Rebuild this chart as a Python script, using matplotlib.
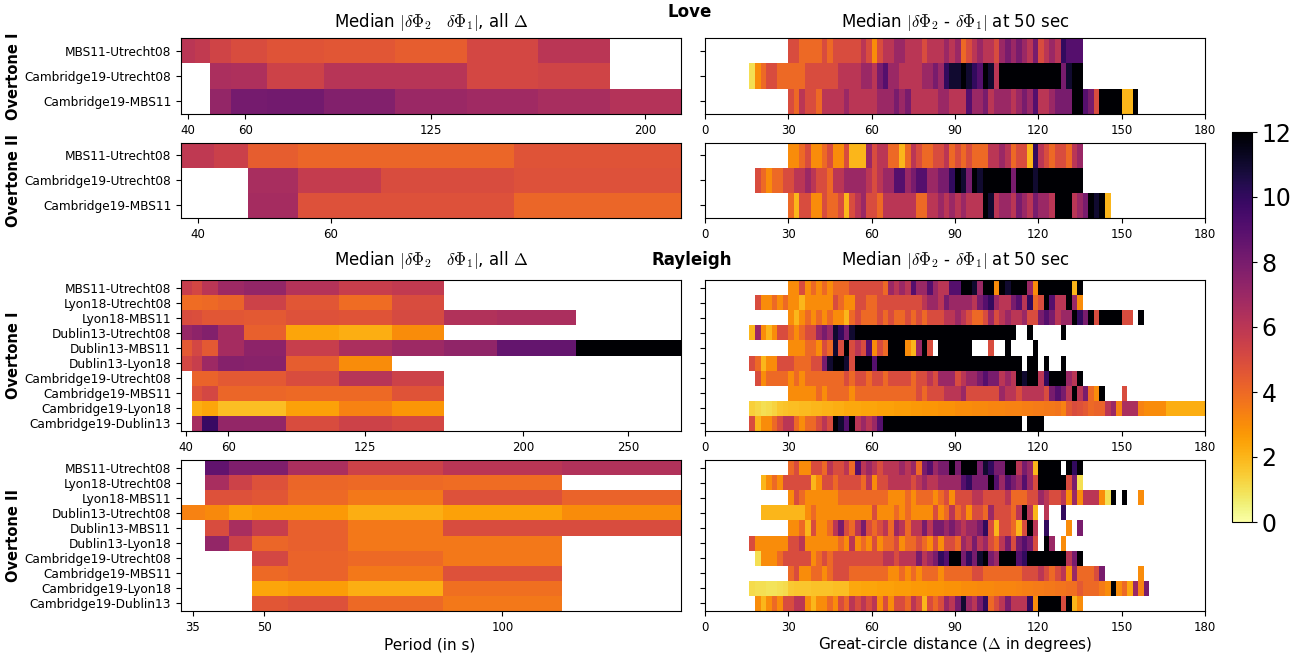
import numpy as np
import matplotlib.pyplot as plt

plt.rcParams["mathtext.fontset"] = "cm"

W, H = 1309, 663
CMAP = "inferno_r"
VMIN, VMAX = 0, 12
nan = np.nan

love_pairs = ["MBS11-Utrecht08", "Cambridge19-Utrecht08", "Cambridge19-MBS11"]
rayleigh_pairs = [
    "MBS11-Utrecht08", "Lyon18-Utrecht08", "Lyon18-MBS11", "Dublin13-Utrecht08",
    "Dublin13-MBS11", "Dublin13-Lyon18", "Cambridge19-Utrecht08", "Cambridge19-MBS11",
    "Cambridge19-Lyon18", "Cambridge19-Dublin13",
]

# median |dPhi2 - dPhi1| per period (all distances)
love_o1_periods = [40, 45, 50, 60, 75, 100, 125, 150, 175, 200]
love_o1_median = [
    [6.0, 5.8, 5.3, 5.0, 4.7, 4.6, 4.4, 5.2, 6.0, nan],
    [nan, nan, 6.5, 6.4, 5.4, 6.1, 6.1, 5.2, 5.3, nan],
    [nan, nan, 7.2, 8.1, 8.2, 7.7, 7.0, 6.8, 6.6, 6.2],
]
love_o2_periods = [40, 45, 50, 60, 75, 100]
love_o2_median = [
    [5.9, 5.5, 4.4, 4.1, 4.1, 4.7],
    [nan, nan, 6.6, 5.7, 5.0, 4.8],
    [nan, nan, 6.7, 4.8, 4.8, 4.1],
]
ray_o1_periods = [40, 45, 50, 60, 75, 100, 125, 150, 175, 200, 250]
ray_o1_median = [
    [5.6, 5.2, 6.0, 6.9, 7.2, 6.2, 5.6, 5.8, nan, nan, nan],
    [3.9, 3.9, 4.0, 4.2, 5.4, 4.6, 3.9, 5.0, nan, nan, nan],
    [5.0, 4.9, 4.6, 4.6, 4.5, 4.8, 4.7, 5.1, 6.3, 6.5, nan],
    [7.1, 7.4, 7.7, 6.7, 4.3, 2.4, 2.2, 3.0, nan, nan, nan],
    [4.5, 5.2, 4.5, 6.7, 7.4, 5.6, 6.5, 6.9, 7.3, 8.6, 12.0],
    [5.2, 5.6, 6.9, 7.6, 7.5, 4.4, 3.0, nan, nan, nan, nan],
    [nan, 4.2, 4.2, 4.5, 4.5, 5.0, 6.1, 5.4, nan, nan, nan],
    [nan, 4.8, 5.2, 4.1, 4.1, 4.0, 4.0, 4.7, nan, nan, nan],
    [nan, 2.2, 2.4, 1.8, 1.8, 2.5, 3.3, 2.8, nan, nan, nan],
    [nan, 6.7, 9.8, 7.2, 7.2, 5.0, 5.4, 5.2, nan, nan, nan],
]
ray_o2_periods = [35, 40, 45, 50, 60, 75, 100, 125]
ray_o2_median = [
    [nan, 8.7, 7.8, 7.8, 6.5, 5.4, 6.0, 6.3],
    [nan, 6.6, 5.4, 4.8, 4.1, 4.0, 3.9, nan],
    [nan, 4.8, 4.8, 4.6, 4.0, 3.6, 4.8, 4.2],
    [3.3, 3.1, 2.5, 2.7, 2.7, 2.2, 2.5, 3.0],
    [nan, 5.0, 6.6, 5.6, 4.3, 3.6, 5.0, 5.0],
    [nan, 7.2, 5.4, 4.1, 4.3, 3.6, 3.6, nan],
    [nan, nan, nan, 5.2, 4.2, 4.0, 3.6, nan],
    [nan, nan, nan, 4.0, 4.2, 3.6, 4.8, nan],
    [nan, nan, nan, 2.4, 2.6, 2.2, 3.8, nan],
    [nan, nan, nan, 4.6, 4.8, 4.0, 3.6, nan],
]

# median at 50 s per 2-degree distance bin: (first degree, cells)
# cell codes: "." = no data, "0".."9","a","b","c" = 0..12
dist_edges = np.arange(0, 182, 2)
love_o1_dist = [
    (30, "554444545555565356677666566676" "7456766578787685676a999"),
    (16, "1345544444555555666677689776666778 7ab".replace(" ", "") + "bcba9cb6cccccccccc" "c8bcc"),
    (30, "546554666676666677787866666776" "66977867776787966788" "8cc985cccc22c"),
]
love_o2_dist = [
    (30, "334533453352227566442465445564" "54544466764552a65455467"),
    (18, "543445566765546677776567799789" "97788a" "cb8cbccccc8cccbcccccccc"),
    (30, "425533544525675546666664466767" "67666cb67768768776ccc678cbc2"),
]
ray_o1_dist = [
    (30, "335343434445555554767697797669" "9ccb7cc3cbccc73cccccc2c"),
    (18, "533434332333335433554455555555677687" "777689a766896a45c966c73"),
    (30, "323434343324544454544545455566" "76544575676675589867" "7ca8c5cccc55.c"),
    (16, "273235543455787ba8b" "cccccccccccccccccc" "ccccccccccc..c.....c"),
    (30, "33344354b5c5659354ccc327c5.ccc" "ccc...5..c....c"),
    (16, "54233555444558bccb5ccc9cccccccccccccc" "cccccccccccc.cc.c..c"),
    (18, "534444343444444454554554555545565777" "56778988676cbcc6accc76c"),
    (30, "333334344443444444444445455566" "67555555766566665898" "6c6843c...5"),
    (16, [1.4, 1.2, 1.0, 1.1, 1.3, 1.6, 1.7, 1.8, 1.8, 1.9,
          1.9, 2.0, 2.0, 2.1, 2.1, 2.2, 2.2, 2.3, 2.3, 2.3,
          2.4, 2.4, 2.4, 2.5, 2.5, 2.5, 2.6, 2.6, 2.6, 2.7,
          2.7, 2.8, 2.8, 2.8, 2.9, 2.9, 2.9, 3.0, 3.0, 3.0,
          3.1, 3.1, 3.1, 3.2, 3.2, 3.2, 3.3, 3.3, 3.3, 3.4,
          3.4, 3.5, 3.5, 3.6, 3.6, 3.7, 3.3, 4.5, 5.0, 4.8,
          4.5, 4.0, 4.2, 4.2, 6.0, 7.0, 3.3, 6.5, 6.5, 6.5,
          3.3, 3.0, 3.0, 3.0, 3.0, 2.2, 2.2, 2.2, 2.2, 2.2,
          2.2, 2.2]),
    (16, "523345664344565cb9c67679ccccccccccccc" "cccccccccccc.ccc"),
]
ray_o2_dist = [
    (30, "453355465564967656667674897 88c".replace(" ", "") + "8ccc8ba88cc6872cccc.cac"),
    (20, "23435555523554555546355666656766777" "79a888c97987975ccccc581"),
    (30, "354333333444444444333434443453" "55566555564445576556" "37366631c.c..3"),
    (20, "22222222343333333333533343433335346" "453554755546c62.6..a"),
    (30, "334253346854685456476466868878" "76778a5255425c6.a...3.8"),
    (16, "5333333556333333436343534453445435355" "476867546858985.c7.3"),
    (18, "133345555534545555555556656668678a9c" "c8a8bc87ccc9accccccc68c"),
    (30, "453344345554444444334343444344" "44455444444455565456" "3744458......3"),
    (16, [1.1, 1.0, 1.0, 0.9, 0.9, 1.0, 1.1, 1.5, 1.6, 1.6,
          1.6, 1.7, 1.7, 1.7, 1.7, 1.8, 1.8, 1.8, 2.3, 2.3,
          2.4, 2.4, 2.4, 2.5, 2.5, 2.5, 2.6, 2.6, 2.6, 2.7,
          2.7, 2.7, 2.8, 2.8, 2.8, 2.9, 2.9, 2.9, 3.0, 3.0,
          3.0, 3.1, 3.1, 3.1, 3.2, 3.2, 3.2, 3.2, 3.3, 3.4,
          3.4, 3.5, 3.5, 3.6, 3.6, 3.7, 3.7, 3.8, 3.8, 4.5,
          4.0, 4.0, 4.0, 3.5, 3.0, 12.0, 3.0, 4.0, 2.3, 7.0,
          3.3, 8.0]),
    (18, "323435566323343546565635355465254576" "8b768a4568666a3cccc5c23"),
]

CODES = "0123456789abc"


def period_edges(periods):
    p = np.asarray(periods, float)
    mids = (p[:-1] + p[1:]) / 2
    return np.concatenate([[p[0] - (p[1] - p[0]) / 2], mids, [p[-1] + (p[-1] - p[-2]) / 2]])


def distance_grid(rows):
    grid = np.full((len(rows), len(dist_edges) - 1), np.nan)
    for r, (start, cells) in enumerate(rows):
        i0 = start // 2
        for k, c in enumerate(cells):
            if i0 + k >= grid.shape[1]:
                break
            if isinstance(c, str):
                if c == ".":
                    continue
                c = CODES.index(c)
            grid[r, i0 + k] = c
    return grid


def rect(x0, y0, x1, y1):
    return [x0 / W, 1 - y1 / H, (x1 - x0) / W, (y1 - y0) / H]


def draw_period(ax, periods, values, pairs, ticks):
    edges = period_edges(periods)
    data = np.ma.masked_invalid(np.array(values, float))
    ax.pcolormesh(edges, np.arange(len(pairs) + 1), data, cmap=CMAP, vmin=VMIN, vmax=VMAX)
    ax.set_xlim(edges[0], edges[-1])
    ax.set_ylim(len(pairs), 0)
    ax.set_yticks(np.arange(len(pairs)) + 0.5, pairs, fontsize=8.7)
    ax.set_xticks(ticks)
    ax.tick_params(axis="x", labelsize=8.5)


def draw_distance(ax, rows):
    data = np.ma.masked_invalid(distance_grid(rows))
    mesh = ax.pcolormesh(dist_edges, np.arange(len(rows) + 1), data, cmap=CMAP, vmin=VMIN, vmax=VMAX)
    ax.set_xlim(0, 180)
    ax.set_ylim(len(rows), 0)
    ax.set_yticks(np.arange(len(rows)) + 0.5, [""] * len(rows))
    ax.set_xticks(np.arange(0, 181, 30))
    ax.tick_params(axis="x", labelsize=8.5)
    return mesh


fig = plt.figure(figsize=(W / 100, H / 100), dpi=100)

panels = [
    ((38, 114), love_o1_periods, love_o1_median, love_pairs, [40, 60, 125, 200], love_o1_dist),
    ((143, 218), love_o2_periods, love_o2_median, love_pairs, [40, 60], love_o2_dist),
    ((280, 431), ray_o1_periods, ray_o1_median, rayleigh_pairs, [40, 60, 125, 200, 250], ray_o1_dist),
    ((460, 611), ray_o2_periods, ray_o2_median, rayleigh_pairs, [35, 50, 100], ray_o2_dist),
]
left_title = r"Median $|\delta\Phi_2\quad\delta\Phi_1|$, all $\Delta$"
right_title = r"Median $|\delta\Phi_2$ - $\delta\Phi_1|$ at 50 sec"
overtone = ["Overtone I", "Overtone II", "Overtone I", "Overtone II"]

for i, ((y0, y1), periods, med, pairs, ticks, dist) in enumerate(panels):
    axl = fig.add_axes(rect(181, y0, 681, y1))
    draw_period(axl, periods, med, pairs, ticks)
    axr = fig.add_axes(rect(705, y0, 1205, y1))
    mesh = draw_distance(axr, dist)
    if i in (0, 2):
        pad = 8 if i == 0 else 11
        axl.set_title(left_title, fontsize=12, pad=pad)
        axr.set_title(right_title, fontsize=12, pad=pad)
    fig.text(14 / W, 1 - (y0 + y1) / 2 / H, overtone[i], rotation=90, fontsize=10.5,
             fontweight="bold", ha="center", va="center")

fig.text(690 / W, 1 - 12 / H, "Love", fontsize=12, fontweight="bold", ha="center", va="center")
fig.text(692 / W, 1 - 260 / H, "Rayleigh", fontsize=12, fontweight="bold", ha="center", va="center")
fig.text(430 / W, 1 - 645 / H, "Period (in s)", fontsize=11, ha="center", va="center")
fig.text(955 / W, 1 - 645 / H, r"Great-circle distance ($\Delta$ in degrees)", fontsize=11,
         ha="center", va="center")

cax = fig.add_axes(rect(1232, 132, 1252, 522))
cb = fig.colorbar(mesh, cax=cax, ticks=range(0, 13, 2))
cb.ax.tick_params(labelsize=17)

fig.savefig("out.png", dpi=100)
